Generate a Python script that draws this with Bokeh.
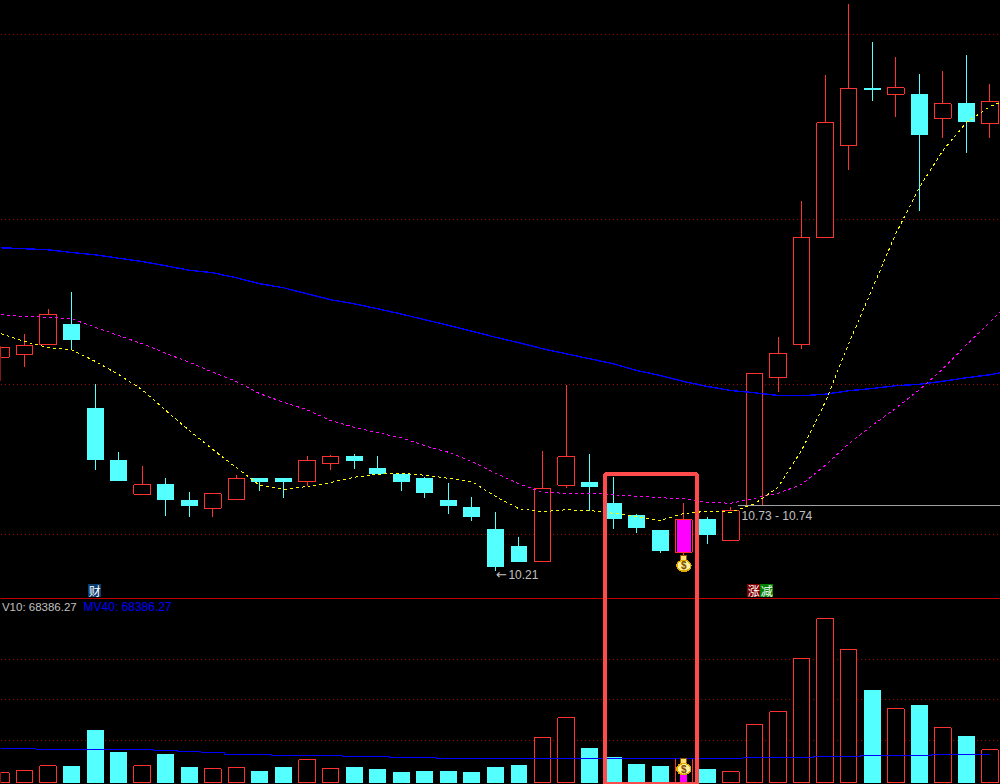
from bokeh.embed import file_html
from bokeh.resources import INLINE
from bokeh.plotting import figure
from bokeh.models import Range1d
from bokeh.core.properties import value

opens = [11.928,11.950,12.026,12.188,11.516,11.100,10.830,10.908,10.780,10.718,10.790,10.956,10.956,10.934,11.078,
         11.132,11.036,10.988,10.956,10.780,10.724,10.548,10.412,10.294,10.902,10.924,10.756,10.660,10.540,10.626,
         10.628,10.462,10.738,11.762,12.026,12.882,13.618,14.076,14.030,14.028,13.838,13.956,13.798]
closes = [12.008,12.018,12.266,12.054,11.094,10.926,10.906,10.774,10.732,10.834,10.954,10.918,10.924,11.098,11.130,
          11.092,10.988,10.924,10.836,10.732,10.644,10.244,10.284,10.874,11.130,10.884,10.628,10.556,10.372,10.366,
          10.500,10.698,11.794,11.954,12.882,13.802,14.074,14.060,14.082,13.700,13.954,13.804,13.970]
highs = [12.008,12.108,12.308,12.444,11.708,11.164,11.052,10.956,10.844,10.834,10.980,10.956,10.956,11.132,11.140,
         11.148,11.132,10.988,10.964,10.916,10.804,10.684,10.484,11.172,11.700,11.148,10.964,10.668,10.540,10.756,
         10.644,10.724,11.794,12.082,13.172,14.180,14.748,14.444,14.324,14.188,14.212,14.340,14.108]
lows = [11.732,11.838,12.026,11.986,11.020,10.926,10.830,10.652,10.644,10.644,10.790,10.852,10.796,10.886,11.020,
        11.028,10.988,10.852,10.796,10.668,10.612,10.212,10.284,10.294,10.876,10.692,10.548,10.516,10.356,10.340,
        10.428,10.462,10.738,11.644,11.988,12.882,13.414,13.972,13.844,13.092,13.676,13.556,13.676]

ma_yellow = [12.114,12.052,12.004,11.986,11.894,11.788,11.666,11.500,11.340,11.188,11.042,10.900,10.868,10.892,10.924,
             10.966,10.990,10.998,10.982,10.958,10.932,10.812,10.714,10.690,10.706,10.700,10.678,10.652,10.620,10.676,
             10.694,10.686,10.754,10.886,11.180,11.566,12.034,12.474,12.914,13.284,13.580,13.804,13.932,14.004]
ma_magenta = [12.266,12.252,12.246,12.234,12.166,12.100,12.034,11.958,11.886,11.806,11.732,11.634,11.566,11.506,11.420,
              11.366,11.322,11.282,11.218,11.166,11.092,10.998,10.914,10.844,10.838,10.838,10.826,10.814,10.802,10.794,
              10.766,10.758,10.798,10.838,10.908,11.060,11.234,11.380,11.518,11.666,11.834,12.026,12.206,12.396]
ma_blue = [12.802,12.794,12.786,12.764,12.746,12.718,12.692,12.658,12.622,12.602,12.562,12.514,12.482,12.434,12.386,
           12.354,12.314,12.272,12.226,12.182,12.134,12.086,12.042,11.994,11.954,11.914,11.874,11.820,11.780,11.732,
           11.692,11.660,11.642,11.620,11.618,11.630,11.658,11.676,11.698,11.710,11.734,11.762,11.786,11.820]

volumes = [29000,35000,50000,48000,156000,90000,50000,84000,45000,41000,44000,33000,45000,68000,41000,
           45000,39000,30000,33000,33000,30000,45000,51000,134000,194000,102000,75000,54000,48000,72000,
           39000,32000,173000,212000,371000,491000,398000,276000,221000,231000,164000,138000,98000]
mv40 = [103500,101000,98000,98000,98000,98000,98000,95000,92000,89000,83000,83000,80000,80000,80000,
        77000,77000,74000,74000,71000,71000,71000,71000,71000,71000,71000,71000,71000,71000,71000,
        71000,71000,74000,74000,74000,77000,77000,80000,80000,80000,83000,83000,83000]

grid_prices = [14.506, 13.026, 11.706, 10.506]
grid_volumes = [368000, 248000, 125000]
SPECIAL = 29  # the bar marked with a money bag

RED, CYAN, MAG = "#ff3232", "#54ffff", "#ff00ff"
GRID = "#a00000"
FONT = value("Liberation Sans")
CJK = value("Noto Sans CJK SC")
PX, VPX = 0.008, 3000  # one screen pixel in price and volume: filled shapes snap one row lower than strokes

p = figure(width=1000, height=784, x_range=Range1d(-0.017, 42.446), y_range=Range1d(8.508, 14.78),
           tools="", toolbar_location=None, output_backend="svg",
           background_fill_color="black", border_fill_color="black", min_border=0,
           x_axis_location=None, y_axis_location=None)
p.grid.visible = False
p.outline_line_color = None
p.extra_y_ranges = {"vol": Range1d(-6000, 2346000)}
p.styles = {"position": "absolute", "left": "0px", "top": "0px", "background-color": "black",
            "shape-rendering": "crispEdges"}

L, R = -1, 44
p.segment([L] * 4, grid_prices, [R] * 4, grid_prices, line_color=GRID, line_dash="1 3", line_width=1)
p.segment([L] * 3, grid_volumes, [R] * 3, grid_volumes, line_color=GRID, line_dash="1 3", line_width=1,
          y_range_name="vol")
p.segment([L], [9.994], [R], [9.994], line_color="#c00000", line_width=1)

n = len(opens)
xs = list(range(n))
up = [i for i in xs if closes[i] > opens[i]]
down = [i for i in xs if closes[i] <= opens[i] and i != SPECIAL]

# wicks then bodies
for idx, col in ((up, RED), (down, CYAN), ([SPECIAL], RED)):
    p.segment(idx, [highs[i] + PX for i in idx], idx, [lows[i] + PX for i in idx], line_color=col, line_width=1)
p.vbar(up, 0.705, [opens[i] for i in up], [closes[i] for i in up], fill_color="black", line_color=RED, line_width=1)
p.vbar(down, 0.72, [closes[i] + PX for i in down], [opens[i] + PX for i in down], fill_color=CYAN, line_color=None)
p.vbar([SPECIAL], 0.705, closes[SPECIAL], opens[SPECIAL], fill_color="black", line_color=RED, line_width=1)
p.vbar([SPECIAL], 0.565, closes[SPECIAL], opens[SPECIAL], fill_color=MAG, line_color=None)

# volume bars
vup = up + [SPECIAL]
p.vbar(vup, 0.705, 0, [volumes[i] for i in vup], fill_color="black", line_color=RED, line_width=1, y_range_name="vol")
p.vbar(down, 0.72, 0, [volumes[i] + VPX for i in down], fill_color=CYAN, line_color=None, y_range_name="vol")
p.vbar([SPECIAL], 0.3, 0, volumes[SPECIAL], fill_color=MAG, line_color=None, y_range_name="vol")

# moving averages
xl = list(range(len(ma_yellow)))
p.line(xl, ma_blue, line_color="#0000ff", line_width=1.4)
p.line(xl, ma_magenta, line_color=MAG, line_width=1, line_dash="3 3")
p.line(xl, ma_yellow, line_color="#ffff00", line_width=1, line_dash="3 3")
p.step(xs, mv40, mode="center", line_color="#0000ff", line_width=1, y_range_name="vol")

# annotations
p.segment([31.32], [10.738], [43], [10.738], line_color="#a0a0a0", line_width=1)
p.text([31.45], [10.658], text=["10.73 - 10.74"], text_color="#c0c0c0", text_font=FONT, text_font_size="12px",
       text_baseline="middle", text_align="left")
p.text([21.02], [10.19], text=["←"], text_color="#c0c0c0", text_font=value("DejaVu Sans"), text_font_size="13px",
       text_baseline="middle", text_align="left")
p.text([21.55], [10.188], text=["10.21"], text_color="#c0c0c0", text_font=FONT, text_font_size="12px",
       text_baseline="middle", text_align="left")
p.text([3.22], [526000], text=["V10: 68386.27"], text_color="#c0c0c0", text_font=FONT, text_font_size="11.5px",
       text_baseline="middle", text_align="right", y_range_name="vol")
p.text([3.51], [526000], text=["MV40: 68386.27"], text_color="#0000ff", text_font=FONT, text_font_size="12px",
       text_baseline="middle", text_align="left", y_range_name="vol")

# badges
for bx, label, col in ((3.99, "财", "#0a3c6e"), (31.97, "涨", "#800000"), (32.52, "减", "#008000")):
    p.rect([bx], [10.058], width=13, height=13, width_units="screen", height_units="screen",
           fill_color=col, line_color=None)
    p.text([bx], [10.058], text=[label], text_color="white", text_font=CJK, text_font_size="12px",
           text_align="center", text_baseline="middle")

# money bags
for neck_y, bag_y in ((10.320, 10.258), (8.696, 8.632)):
    p.rect([SPECIAL], [neck_y], width=6, height=6, width_units="screen", height_units="screen",
           fill_color="#ffe070", line_color="#8a5a00", line_width=1)
    p.ellipse([SPECIAL], [bag_y], width=14, height=11, width_units="screen", height_units="screen",
              fill_color="#fff29a", line_color="#e0a800", line_width=1.5)
    p.text([SPECIAL], [bag_y], text=["$"], text_color="#7a4a00", text_font=FONT, text_font_size="10px",
           text_font_style="bold", text_align="center", text_baseline="middle")

# highlight box
p.quad(left=[25.67], right=[29.54], top=[10.992], bottom=[8.516], fill_color=None, line_color="#ff4b4b", line_width=4)

open("out.html", "w").write(file_html(p, INLINE))
